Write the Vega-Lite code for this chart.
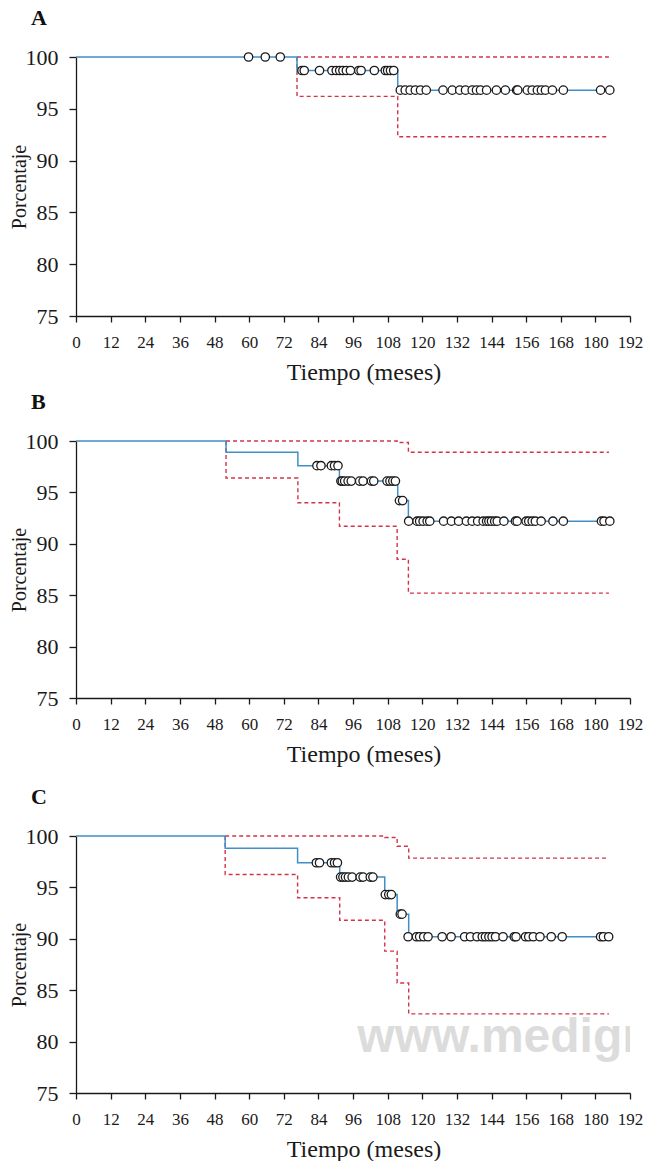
{
  "$schema": "https://vega.github.io/schema/vega-lite/v6.json",
  "padding": {"left": 9, "top": 7, "right": 0, "bottom": 0},
  "background": "white",
  "config": {
    "font": "Liberation Serif",
    "view": {"stroke": null},
    "axis": {"domainColor": "#1a1a1a", "tickColor": "#1a1a1a", "labelColor": "#1a1a1a", "titleColor": "#1a1a1a", "grid": false, "labelFont": "Liberation Serif", "titleFont": "Liberation Serif", "titleFontWeight": "normal", "domainWidth": 1.3, "tickWidth": 1.3, "labelOverlap": false, "labelFlush": false},
    "axisX": {"labelFontSize": 17, "titleFontSize": 24, "tickSize": 6, "labelPadding": 12, "titlePadding": 10, "titleX": 287.5, "titleAlign": "center"},
    "axisY": {"labelFontSize": 22, "titleFontSize": 20, "tickSize": 7, "labelPadding": 11, "titlePadding": -4},
    "title": {"anchor": "start", "frame": "group", "font": "Liberation Serif", "fontSize": 22, "fontWeight": "bold", "color": "#111", "dx": -45, "offset": 16}
  },
  "datasets": {
    "lines": [
      {"p": "A", "s": "km", "k": 1, "t": 0, "v": 100},
      {"p": "A", "s": "km", "k": 2, "t": 76.6, "v": 98.7},
      {"p": "A", "s": "km", "k": 3, "t": 111.5, "v": 96.8},
      {"p": "A", "s": "km", "k": 4, "t": 185, "v": 96.8},
      {"p": "A", "s": "hi", "k": 1, "t": 76.6, "v": 100},
      {"p": "A", "s": "hi", "k": 2, "t": 184.7, "v": 100},
      {"p": "A", "s": "lo", "k": 1, "t": 76.6, "v": 100},
      {"p": "A", "s": "lo", "k": 2, "t": 76.6, "v": 96.2},
      {"p": "A", "s": "lo", "k": 3, "t": 111.5, "v": 92.3},
      {"p": "A", "s": "lo", "k": 4, "t": 184.7, "v": 92.3},

      {"p": "B", "s": "km", "k": 1, "t": 0, "v": 100},
      {"p": "B", "s": "km", "k": 2, "t": 52, "v": 98.9},
      {"p": "B", "s": "km", "k": 3, "t": 76.9, "v": 97.6},
      {"p": "B", "s": "km", "k": 4, "t": 91.3, "v": 96.1},
      {"p": "B", "s": "km", "k": 5, "t": 111.5, "v": 94.2},
      {"p": "B", "s": "km", "k": 6, "t": 115.2, "v": 92.2},
      {"p": "B", "s": "km", "k": 7, "t": 185, "v": 92.2},
      {"p": "B", "s": "hi", "k": 1, "t": 52, "v": 100},
      {"p": "B", "s": "hi", "k": 2, "t": 111.3, "v": 99.85},
      {"p": "B", "s": "hi", "k": 3, "t": 115.2, "v": 98.9},
      {"p": "B", "s": "hi", "k": 4, "t": 184.7, "v": 98.9},
      {"p": "B", "s": "lo", "k": 1, "t": 52, "v": 100},
      {"p": "B", "s": "lo", "k": 2, "t": 52, "v": 96.4},
      {"p": "B", "s": "lo", "k": 3, "t": 76.9, "v": 94.0},
      {"p": "B", "s": "lo", "k": 4, "t": 91.3, "v": 91.7},
      {"p": "B", "s": "lo", "k": 5, "t": 111.3, "v": 88.5},
      {"p": "B", "s": "lo", "k": 6, "t": 115.2, "v": 85.2},
      {"p": "B", "s": "lo", "k": 7, "t": 184.7, "v": 85.2},

      {"p": "C", "s": "km", "k": 1, "t": 0, "v": 100},
      {"p": "C", "s": "km", "k": 2, "t": 51.7, "v": 98.8},
      {"p": "C", "s": "km", "k": 3, "t": 76.8, "v": 97.4},
      {"p": "C", "s": "km", "k": 4, "t": 91.4, "v": 96.0},
      {"p": "C", "s": "km", "k": 5, "t": 107, "v": 94.3},
      {"p": "C", "s": "km", "k": 6, "t": 111.3, "v": 92.4},
      {"p": "C", "s": "km", "k": 7, "t": 115.3, "v": 90.2},
      {"p": "C", "s": "km", "k": 8, "t": 184.6, "v": 90.2},
      {"p": "C", "s": "hi", "k": 1, "t": 51.7, "v": 100},
      {"p": "C", "s": "hi", "k": 2, "t": 107, "v": 99.85},
      {"p": "C", "s": "hi", "k": 3, "t": 111.3, "v": 99.0},
      {"p": "C", "s": "hi", "k": 4, "t": 115.3, "v": 97.85},
      {"p": "C", "s": "hi", "k": 5, "t": 184.7, "v": 97.85},
      {"p": "C", "s": "lo", "k": 1, "t": 51.7, "v": 100},
      {"p": "C", "s": "lo", "k": 2, "t": 51.7, "v": 96.25},
      {"p": "C", "s": "lo", "k": 3, "t": 76.8, "v": 94.0},
      {"p": "C", "s": "lo", "k": 4, "t": 91.4, "v": 91.8},
      {"p": "C", "s": "lo", "k": 5, "t": 107, "v": 88.8},
      {"p": "C", "s": "lo", "k": 6, "t": 111.3, "v": 85.7},
      {"p": "C", "s": "lo", "k": 7, "t": 115.3, "v": 82.7},
      {"p": "C", "s": "lo", "k": 8, "t": 184.7, "v": 82.7}
    ],
    "cens": [
      {"p": "A", "t": 59.8, "v": 100}, {"p": "A", "t": 65.6, "v": 100}, {"p": "A", "t": 70.8, "v": 100},
      {"p": "A", "t": 78.3, "v": 98.7}, {"p": "A", "t": 79.1, "v": 98.7}, {"p": "A", "t": 84.4, "v": 98.7}, {"p": "A", "t": 88.7, "v": 98.7},
      {"p": "A", "t": 90.2, "v": 98.7}, {"p": "A", "t": 91.4, "v": 98.7}, {"p": "A", "t": 92.5, "v": 98.7}, {"p": "A", "t": 93.7, "v": 98.7},
      {"p": "A", "t": 95.1, "v": 98.7}, {"p": "A", "t": 98.0, "v": 98.7}, {"p": "A", "t": 98.8, "v": 98.7}, {"p": "A", "t": 103.4, "v": 98.7},
      {"p": "A", "t": 107.2, "v": 98.7}, {"p": "A", "t": 108.0, "v": 98.7}, {"p": "A", "t": 109.0, "v": 98.7}, {"p": "A", "t": 110.1, "v": 98.7},
      {"p": "A", "t": 112.4, "v": 96.8}, {"p": "A", "t": 114.1, "v": 96.8}, {"p": "A", "t": 115.8, "v": 96.8}, {"p": "A", "t": 117.6, "v": 96.8},
      {"p": "A", "t": 119.4, "v": 96.8}, {"p": "A", "t": 121.4, "v": 96.8}, {"p": "A", "t": 127.2, "v": 96.8}, {"p": "A", "t": 130.4, "v": 96.8},
      {"p": "A", "t": 133.0, "v": 96.8}, {"p": "A", "t": 135.0, "v": 96.8}, {"p": "A", "t": 137.3, "v": 96.8}, {"p": "A", "t": 138.8, "v": 96.8},
      {"p": "A", "t": 140.2, "v": 96.8}, {"p": "A", "t": 142.3, "v": 96.8}, {"p": "A", "t": 145.7, "v": 96.8}, {"p": "A", "t": 148.8, "v": 96.8},
      {"p": "A", "t": 152.7, "v": 96.8}, {"p": "A", "t": 153.1, "v": 96.8}, {"p": "A", "t": 156.4, "v": 96.8}, {"p": "A", "t": 158.1, "v": 96.8},
      {"p": "A", "t": 159.9, "v": 96.8}, {"p": "A", "t": 161.3, "v": 96.8}, {"p": "A", "t": 162.7, "v": 96.8}, {"p": "A", "t": 165.1, "v": 96.8},
      {"p": "A", "t": 168.9, "v": 96.8}, {"p": "A", "t": 181.8, "v": 96.8}, {"p": "A", "t": 185.0, "v": 96.8},

      {"p": "B", "t": 83.5, "v": 97.6}, {"p": "B", "t": 84.9, "v": 97.6}, {"p": "B", "t": 88.5, "v": 97.6}, {"p": "B", "t": 89.6, "v": 97.6}, {"p": "B", "t": 90.8, "v": 97.6},
      {"p": "B", "t": 91.8, "v": 96.1}, {"p": "B", "t": 92.3, "v": 96.1}, {"p": "B", "t": 93.1, "v": 96.1}, {"p": "B", "t": 94.3, "v": 96.1},
      {"p": "B", "t": 95.4, "v": 96.1}, {"p": "B", "t": 98.3, "v": 96.1}, {"p": "B", "t": 99.5, "v": 96.1}, {"p": "B", "t": 102.4, "v": 96.1},
      {"p": "B", "t": 103.2, "v": 96.1}, {"p": "B", "t": 107.8, "v": 96.1}, {"p": "B", "t": 108.8, "v": 96.1}, {"p": "B", "t": 109.8, "v": 96.1}, {"p": "B", "t": 110.7, "v": 96.1},
      {"p": "B", "t": 112.1, "v": 94.2}, {"p": "B", "t": 113.2, "v": 94.2},
      {"p": "B", "t": 115.3, "v": 92.2}, {"p": "B", "t": 118.2, "v": 92.2}, {"p": "B", "t": 119.1, "v": 92.2}, {"p": "B", "t": 120.3, "v": 92.2},
      {"p": "B", "t": 121.7, "v": 92.2}, {"p": "B", "t": 122.6, "v": 92.2}, {"p": "B", "t": 127.4, "v": 92.2}, {"p": "B", "t": 130.1, "v": 92.2},
      {"p": "B", "t": 132.6, "v": 92.2}, {"p": "B", "t": 135.3, "v": 92.2}, {"p": "B", "t": 137.3, "v": 92.2}, {"p": "B", "t": 139.2, "v": 92.2},
      {"p": "B", "t": 141.1, "v": 92.2}, {"p": "B", "t": 142.3, "v": 92.2}, {"p": "B", "t": 143.1, "v": 92.2}, {"p": "B", "t": 144.0, "v": 92.2},
      {"p": "B", "t": 145.1, "v": 92.2}, {"p": "B", "t": 146.0, "v": 92.2}, {"p": "B", "t": 148.3, "v": 92.2}, {"p": "B", "t": 152.3, "v": 92.2},
      {"p": "B", "t": 152.9, "v": 92.2}, {"p": "B", "t": 156.0, "v": 92.2}, {"p": "B", "t": 156.9, "v": 92.2}, {"p": "B", "t": 158.1, "v": 92.2},
      {"p": "B", "t": 159.2, "v": 92.2}, {"p": "B", "t": 161.2, "v": 92.2}, {"p": "B", "t": 165.3, "v": 92.2}, {"p": "B", "t": 168.9, "v": 92.2},
      {"p": "B", "t": 182.1, "v": 92.2}, {"p": "B", "t": 183.0, "v": 92.2}, {"p": "B", "t": 185.0, "v": 92.2},

      {"p": "C", "t": 83.3, "v": 97.4}, {"p": "C", "t": 84.4, "v": 97.4}, {"p": "C", "t": 88.5, "v": 97.4}, {"p": "C", "t": 89.6, "v": 97.4}, {"p": "C", "t": 90.6, "v": 97.4},
      {"p": "C", "t": 91.7, "v": 96.0}, {"p": "C", "t": 92.5, "v": 96.0}, {"p": "C", "t": 93.4, "v": 96.0}, {"p": "C", "t": 94.4, "v": 96.0},
      {"p": "C", "t": 95.7, "v": 96.0}, {"p": "C", "t": 98.5, "v": 96.0}, {"p": "C", "t": 99.5, "v": 96.0}, {"p": "C", "t": 102.0, "v": 96.0}, {"p": "C", "t": 102.9, "v": 96.0},
      {"p": "C", "t": 107.2, "v": 94.3}, {"p": "C", "t": 108.4, "v": 94.3}, {"p": "C", "t": 109.3, "v": 94.3},
      {"p": "C", "t": 112.4, "v": 92.4}, {"p": "C", "t": 113.0, "v": 92.4},
      {"p": "C", "t": 115.1, "v": 90.2}, {"p": "C", "t": 118.0, "v": 90.2}, {"p": "C", "t": 119.1, "v": 90.2}, {"p": "C", "t": 120.5, "v": 90.2},
      {"p": "C", "t": 122.0, "v": 90.2}, {"p": "C", "t": 126.9, "v": 90.2}, {"p": "C", "t": 130.0, "v": 90.2}, {"p": "C", "t": 134.7, "v": 90.2},
      {"p": "C", "t": 136.7, "v": 90.2}, {"p": "C", "t": 139.0, "v": 90.2}, {"p": "C", "t": 140.8, "v": 90.2}, {"p": "C", "t": 141.9, "v": 90.2},
      {"p": "C", "t": 143.1, "v": 90.2}, {"p": "C", "t": 144.2, "v": 90.2}, {"p": "C", "t": 145.4, "v": 90.2}, {"p": "C", "t": 148.0, "v": 90.2},
      {"p": "C", "t": 151.9, "v": 90.2}, {"p": "C", "t": 152.5, "v": 90.2}, {"p": "C", "t": 155.8, "v": 90.2}, {"p": "C", "t": 156.9, "v": 90.2},
      {"p": "C", "t": 158.5, "v": 90.2}, {"p": "C", "t": 160.8, "v": 90.2}, {"p": "C", "t": 164.7, "v": 90.2}, {"p": "C", "t": 168.5, "v": 90.2},
      {"p": "C", "t": 181.8, "v": 90.2}, {"p": "C", "t": 182.8, "v": 90.2}, {"p": "C", "t": 184.6, "v": 90.2}
    ],
    "mark": [{"w": "www.medigraphic.org", "t": 97.5, "v": 79.0}]
  },
  "spacing": 20,
  "vconcat": [
    {
      "spacing": 7,
      "vconcat": [
        {
          "title": "A",
          "width": 554, "height": 259,
          "encoding": {
            "x": {"field": "t", "type": "quantitative", "scale": {"domain": [0, 192], "nice": false}, "axis": {"values": [0,12,24,36,48,60,72,84,96,108,120,132,144,156,168,180,192], "title": "Tiempo (meses)"}},
            "y": {"field": "v", "type": "quantitative", "scale": {"domain": [75, 100], "nice": false, "zero": false}, "axis": {"values": [75,80,85,90,95,100], "title": "Porcentaje"}}
          },
          "layer": [
            {"data": {"name": "lines"}, "transform": [{"filter": "datum.p == 'A' && datum.s != 'km'"}], "mark": {"type": "line", "interpolate": "step-after", "color": "#d3344a", "strokeDash": [4, 3], "strokeWidth": 1.4}, "encoding": {"detail": {"field": "s"}, "order": {"field": "k"}}},
            {"data": {"name": "lines"}, "transform": [{"filter": "datum.p == 'A' && datum.s == 'km'"}], "mark": {"type": "line", "interpolate": "step-after", "color": "#3f8fc9", "strokeWidth": 1.5}, "encoding": {"order": {"field": "k"}}},
            {"data": {"name": "cens"}, "transform": [{"filter": "datum.p == 'A'"}], "mark": {"type": "point", "shape": "circle", "filled": false, "fill": "white", "fillOpacity": 1, "stroke": "#1a1a1a", "strokeWidth": 1.3, "opacity": 1, "size": 70}}
          ]
        },
        {
          "title": "B",
          "width": 554, "height": 257,
          "encoding": {
            "x": {"field": "t", "type": "quantitative", "scale": {"domain": [0, 192], "nice": false}, "axis": {"values": [0,12,24,36,48,60,72,84,96,108,120,132,144,156,168,180,192], "title": "Tiempo (meses)"}},
            "y": {"field": "v", "type": "quantitative", "scale": {"domain": [75, 100], "nice": false, "zero": false}, "axis": {"values": [75,80,85,90,95,100], "title": "Porcentaje"}}
          },
          "layer": [
            {"data": {"name": "lines"}, "transform": [{"filter": "datum.p == 'B' && datum.s != 'km'"}], "mark": {"type": "line", "interpolate": "step-after", "color": "#d3344a", "strokeDash": [4, 3], "strokeWidth": 1.4}, "encoding": {"detail": {"field": "s"}, "order": {"field": "k"}}},
            {"data": {"name": "lines"}, "transform": [{"filter": "datum.p == 'B' && datum.s == 'km'"}], "mark": {"type": "line", "interpolate": "step-after", "color": "#3f8fc9", "strokeWidth": 1.5}, "encoding": {"order": {"field": "k"}}},
            {"data": {"name": "cens"}, "transform": [{"filter": "datum.p == 'B'"}], "mark": {"type": "point", "shape": "circle", "filled": false, "fill": "white", "fillOpacity": 1, "stroke": "#1a1a1a", "strokeWidth": 1.3, "opacity": 1, "size": 70}}
          ]
        }
      ]
    },
    {
      "title": "C",
      "width": 554, "height": 257,
      "encoding": {
        "x": {"field": "t", "type": "quantitative", "scale": {"domain": [0, 192], "nice": false}, "axis": {"values": [0,12,24,36,48,60,72,84,96,108,120,132,144,156,168,180,192], "title": "Tiempo (meses)"}},
        "y": {"field": "v", "type": "quantitative", "scale": {"domain": [75, 100], "nice": false, "zero": false}, "axis": {"values": [75,80,85,90,95,100], "title": "Porcentaje"}}
      },
      "layer": [
        {"data": {"name": "mark"}, "mark": {"type": "text", "align": "left", "baseline": "alphabetic", "font": "Liberation Sans", "fontWeight": "bold", "fontSize": 48, "fill": "#dcdcdc", "clip": true}, "encoding": {"text": {"field": "w", "type": "nominal"}}},
        {"data": {"name": "lines"}, "transform": [{"filter": "datum.p == 'C' && datum.s != 'km'"}], "mark": {"type": "line", "interpolate": "step-after", "color": "#d3344a", "strokeDash": [4, 3], "strokeWidth": 1.4}, "encoding": {"detail": {"field": "s"}, "order": {"field": "k"}}},
        {"data": {"name": "lines"}, "transform": [{"filter": "datum.p == 'C' && datum.s == 'km'"}], "mark": {"type": "line", "interpolate": "step-after", "color": "#3f8fc9", "strokeWidth": 1.5}, "encoding": {"order": {"field": "k"}}},
        {"data": {"name": "cens"}, "transform": [{"filter": "datum.p == 'C'"}], "mark": {"type": "point", "shape": "circle", "filled": false, "fill": "white", "fillOpacity": 1, "stroke": "#1a1a1a", "strokeWidth": 1.3, "opacity": 1, "size": 70}}
      ]
    }
  ]
}
